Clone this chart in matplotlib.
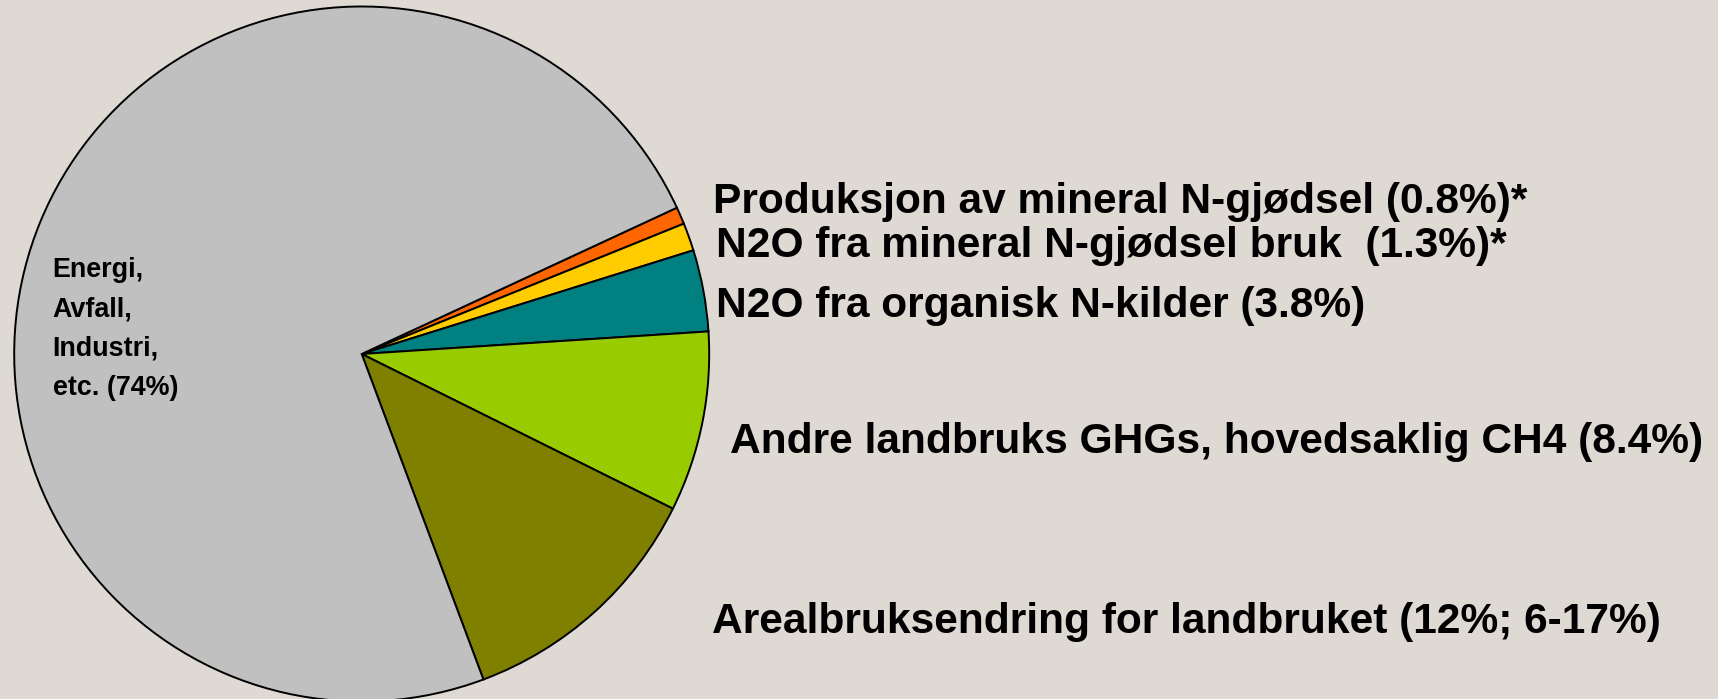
import matplotlib
matplotlib.use("Agg")
import matplotlib.pyplot as plt

# ---- data ----
shares = [0.8, 1.3, 3.8, 8.4, 12, 74]
labels = [
    "Produksjon av mineral N-gjødsel (0.8%)*",
    "N2O fra mineral N-gjødsel bruk  (1.3%)*",
    "N2O fra organisk N-kilder (3.8%)",
    "Andre landbruks GHGs, hovedsaklig CH4 (8.4%)",
    "Arealbruksendring for landbruket (12%; 6-17%)",
    "Energi,\nAvfall,\nIndustri,\netc. (74%)",
]
colors = ["#FF6600", "#FFCC00", "#008080", "#99CC00", "#808000", "#C0C0C0"]

W, H = 1718, 699
BG = "#DFD9D4"

fig = plt.figure(figsize=(W / 100, H / 100), dpi=100, facecolor=BG)
ax = fig.add_axes([0, 0, 1, 1])
ax.set_facecolor(BG)

ax.pie(shares, colors=colors, startangle=24.9, counterclock=False,
       center=(361.7, H - 354), radius=347.5,
       wedgeprops=dict(edgecolor="black", linewidth=1.4))
ax.set_xlim(0, W)
ax.set_ylim(0, H)
ax.set_aspect("equal")
ax.axis("off")

font = dict(family=["Liberation Sans", "DejaVu Sans"], weight="bold", color="black")

# right-hand labels (x, baseline y in pixels from top)
label_pos = [(713, 212.7), (716.5, 257.3), (716.5, 316.7), (730.5, 452.7), (712.5, 632.7)]
for txt, (x, y) in zip(labels[:5], label_pos):
    ax.text(x, H - y, txt, fontsize=30.6, ha="left", va="baseline", **font)

# label inside the big slice
ax.text(52.7, H - 257, labels[5], fontsize=19.4, ha="left", va="top",
        linespacing=1.67, **font)

fig.savefig("out.png", dpi=100, facecolor=BG)
